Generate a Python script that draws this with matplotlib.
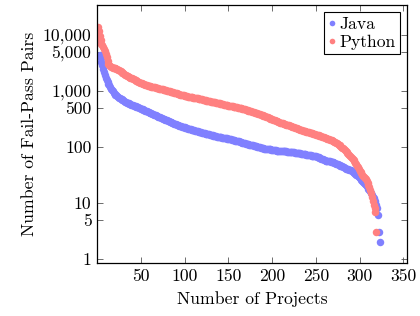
import numpy as np
import matplotlib
matplotlib.use('Agg')
import matplotlib.pyplot as plt
from matplotlib.ticker import FixedLocator, NullLocator

plt.rcParams['font.family'] = ['cmr10', 'DejaVu Serif']
plt.rcParams['axes.formatter.use_mathtext'] = True

# fail-pass pairs per project, sorted descending
java_pairs = [
    12000, 7500, 4400, 3900, 3300, 2900, 2500, 2200, 1900, 1700,
    1550, 1450, 1350, 1250, 1180, 1100, 1040, 980, 930, 890,
    860, 830, 800, 780, 760, 740, 720, 705, 690, 675,
    660, 645, 630, 618, 606, 595, 585, 575, 566, 558,
    550, 542, 535, 528, 520, 512, 505, 498, 490, 482,
    474, 466, 458, 450, 443, 436, 429, 422, 415, 408,
    401, 395, 389, 383, 377, 371, 365, 359, 353, 347,
    341, 336, 331, 326, 321, 316, 311, 306, 301, 296,
    291, 286, 281, 277, 273, 269, 265, 261, 257, 253,
    249, 246, 243, 240, 237, 234, 231, 228, 225, 222,
    219, 216, 214, 212, 210, 208, 206, 204, 202, 200,
    198, 196, 194, 192, 190, 188, 186, 184, 182, 180,
    178, 176, 175, 173, 171, 170, 168, 167, 165, 164,
    162, 161, 159, 158, 156, 155, 153, 152, 151, 150,
    149, 148, 147, 146, 145, 144, 143, 142, 140, 139,
    138, 137, 136, 134, 133, 132, 131, 130, 129, 128,
    126, 125, 123, 122, 120, 119, 117, 116, 115, 114,
    113, 112, 111, 110, 109, 108, 107, 106, 105, 104,
    103, 102, 101, 100, 99, 98, 97, 96, 95, 94,
    93, 93, 92, 92, 91, 91, 90, 90, 89, 89,
    88, 88, 87, 87, 86, 86, 86, 85, 85, 85,
    84, 84, 84, 83, 83, 83, 82, 82, 82, 81,
    81, 81, 80, 80, 80, 79, 79, 78, 78, 78,
    77, 77, 76, 76, 75, 75, 74, 74, 73, 73,
    72, 72, 71, 71, 70, 70, 69, 69, 68, 68,
    67, 66, 65, 64, 63, 62, 61, 60, 59, 58,
    57, 57, 56, 56, 55, 55, 54, 54, 53, 53,
    52, 51, 50, 50, 49, 48, 47, 46, 45, 45,
    44, 43, 42, 41, 41, 40, 40, 39, 39, 38,
    37, 36, 35, 34, 33, 32, 31, 30, 29, 28,
    27, 26, 25, 24, 23, 22, 21, 20, 19, 18,
    17, 16, 15, 14, 13, 12, 11, 10, 9, 8,
    6, 3, 2,
]

python_pairs = [
    14000, 11500, 9500, 8000, 7000, 6500, 6000, 5600, 5200, 4600,
    4100, 3400, 3000, 2850, 2750, 2700, 2650, 2600, 2580, 2560,
    2540, 2500, 2450, 2400, 2340, 2280, 2220, 2160, 2100, 2050,
    2000, 1950, 1900, 1860, 1820, 1790, 1760, 1730, 1700, 1670,
    1640, 1610, 1580, 1550, 1520, 1490, 1460, 1430, 1410, 1390,
    1370, 1350, 1330, 1310, 1290, 1275, 1260, 1245, 1230, 1215,
    1200, 1190, 1180, 1170, 1160, 1150, 1140, 1130, 1120, 1110,
    1100, 1090, 1080, 1070, 1060, 1050, 1040, 1030, 1020, 1010,
    1000, 990, 980, 970, 960, 950, 940, 930, 920, 910,
    900, 890, 880, 870, 860, 850, 845, 840, 830, 820,
    810, 800, 795, 790, 785, 780, 775, 770, 765, 760,
    755, 750, 745, 740, 735, 730, 725, 720, 715, 710,
    700, 690, 680, 675, 670, 665, 660, 655, 650, 645,
    640, 635, 630, 625, 620, 615, 610, 605, 600, 595,
    590, 585, 580, 575, 570, 565, 560, 556, 552, 548,
    544, 540, 536, 532, 528, 524, 520, 516, 512, 508,
    504, 500, 495, 490, 485, 480, 475, 470, 465, 460,
    455, 450, 445, 440, 435, 430, 425, 420, 415, 410,
    405, 400, 395, 390, 385, 380, 375, 370, 365, 360,
    355, 350, 345, 340, 335, 330, 325, 320, 315, 310,
    305, 300, 296, 292, 288, 284, 280, 276, 272, 268,
    265, 262, 259, 256, 253, 250, 247, 244, 241, 238,
    235, 232, 229, 226, 223, 220, 217, 214, 211, 208,
    205, 202, 200, 198, 196, 194, 192, 190, 188, 186,
    184, 182, 180, 178, 176, 174, 172, 170, 168, 166,
    165, 163, 161, 159, 157, 155, 153, 151, 149, 147,
    145, 143, 141, 139, 137, 135, 133, 131, 129, 127,
    124, 121, 118, 115, 112, 109, 106, 103, 100, 97,
    94, 91, 88, 85, 82, 79, 76, 73, 70, 67,
    64, 61, 58, 55, 52, 49, 46, 43, 40, 37,
    36, 34, 32, 30, 29, 28, 27, 25, 23, 21,
    19, 17, 15, 13, 11, 9, 8, 7, 3,
]

y_ticks = [1, 5, 10, 100, 500, 1000, 5000, 10000]
y_tick_labels = ['1', '5', '10', '100', '500', '1,000', '5,000', '10,000']
x_ticks = [50, 100, 150, 200, 250, 300, 350]

java_x = np.arange(1, len(java_pairs) + 1)
python_x = np.arange(1, len(python_pairs) + 1)

fig = plt.figure(figsize=(4.2, 3.16), dpi=100)
ax = fig.add_axes([0.231, 0.168, 0.738, 0.816])

ax.plot(java_x, java_pairs, 'o', color='#8080ff', markersize=5.4, markeredgewidth=0, label='Java')
ax.plot(python_x, python_pairs, 'o', color='#ff8080', markersize=5.4, markeredgewidth=0, label='Python')

ax.set_yscale('log')
ax.set_xlim(0, 354)
ax.set_ylim(0.85, 34000)
ax.yaxis.set_major_locator(FixedLocator(y_ticks))
ax.yaxis.set_minor_locator(NullLocator())
ax.set_yticklabels(y_tick_labels)
ax.set_xticks(x_ticks)
ax.set_xticklabels([str(t) for t in x_ticks])

ax.tick_params(direction='in', length=4, width=0.6, color='#555555',
               top=True, right=True, labelsize=12.7, pad=4)
for s in ax.spines.values():
    s.set_linewidth(0.9)

ax.set_xlabel('Number of Projects', fontsize=12.7, labelpad=5)
ax.set_ylabel('Number of Fail-Pass Pairs', fontsize=12.7, labelpad=4)

leg = ax.legend(loc='upper right', fontsize=12.7, frameon=True, fancybox=False,
                edgecolor='black', framealpha=1, handlelength=0.4, handletextpad=0.2,
                borderpad=0.25, labelspacing=0.15, markerscale=0.75,
                borderaxespad=0.4)
leg.get_frame().set_linewidth(0.8)

fig.savefig('out.png', dpi=100)
